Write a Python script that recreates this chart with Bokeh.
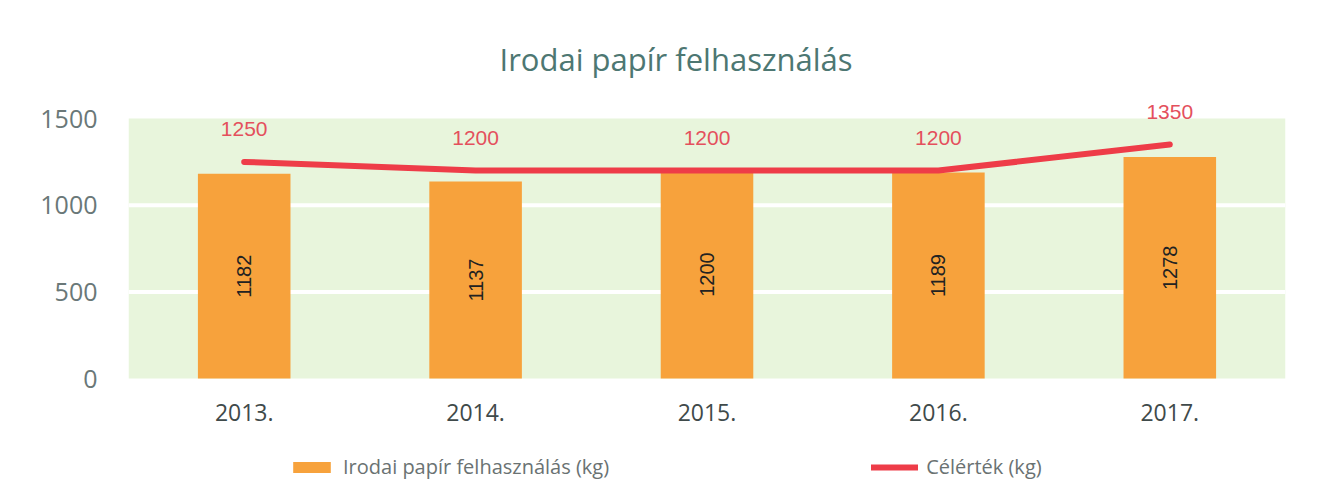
import math
from bokeh.plotting import figure
from bokeh.models import (ColumnDataSource, LabelSet, Legend, LegendItem, Range1d,
                          FactorRange, BoxAnnotation, Span)
from bokeh.core.properties import value
from bokeh.embed import file_html
from bokeh.resources import INLINE

years = ["2013.", "2014.", "2015.", "2016.", "2017."]
usage = [1182, 1137, 1200, 1189, 1278]
target = [1250, 1200, 1200, 1200, 1350]
y_ticks = [0, 500, 1000, 1500]

src = ColumnDataSource(data=dict(
    x=years, usage=usage, target=target,
    half=[v / 2 for v in usage],
    base=[0] * len(years),
    usage_txt=[str(v) for v in usage],
    target_txt=[str(v) for v in target],
))

p = figure(x_range=FactorRange(*years, range_padding=0), y_range=Range1d(-617, 1662),
           width=1308, height=485,
           min_border_left=128, min_border_right=23, min_border_top=90, min_border_bottom=0,
           output_backend="svg", toolbar_location=None,
           title="Irodai papír felhasználás")

p.background_fill_color = "white"
p.border_fill_color = "white"
p.outline_line_color = None

p.title.align = "left"
p.title.offset = 371
p.title.text_font = "Open Sans"
p.title.text_font_style = "normal"
p.title.text_font_size = "31px"
p.title.text_color = "#4d7772"
p.title.standoff = 22

band = BoxAnnotation(bottom=y_ticks[0], top=y_ticks[-1], fill_color="#e8f5dc", fill_alpha=1,
                     line_color=None, level="underlay")
p.add_layout(band)
for t in y_ticks[1:-1]:
    p.add_layout(Span(location=t, dimension="width", line_color="white", line_width=4,
                      level="underlay"))

bars = p.vbar(x="x", top="usage", width=0.4, source=src, fill_color="#f7a23c", line_color=None)
line = p.line(x="x", y="target", source=src, line_color="#ee3c48", line_width=6, line_cap="round")

bar_labels = LabelSet(x="x", y="half", text="usage_txt", source=src, angle=math.pi / 2,
                      text_align="center", text_baseline="middle",
                      text_font=value("Liberation Sans"), text_font_size="20px",
                      text_color="#222222")
p.add_layout(bar_labels)

line_labels = LabelSet(x="x", y="target", text="target_txt", source=src, y_offset=26,
                       text_align="center", text_baseline="bottom",
                       text_font=value("Liberation Sans"), text_font_size="21px",
                       text_color="#e4505c")
p.add_layout(line_labels)

year_labels = LabelSet(x="x", y="base", text="x", source=src, y_offset=-34,
                       text_align="center", text_baseline="middle",
                       text_font=value("Open Sans"), text_font_size="23px",
                       text_color="#3f4a4a")
p.add_layout(year_labels)

p.yaxis.ticker = y_ticks
p.yaxis.axis_line_color = None
p.yaxis.major_tick_line_color = None
p.yaxis.minor_tick_line_color = None
p.yaxis.major_label_text_font = "Open Sans"
p.yaxis.major_label_text_font_size = "25px"
p.yaxis.major_label_text_color = "#6a7878"
p.yaxis.major_label_standoff = 25

p.xaxis.visible = False
p.xgrid.grid_line_color = None
p.ygrid.grid_line_color = None

legend = Legend(items=[
    LegendItem(label="Irodai papír felhasználás (kg)", renderers=[bars]),
    LegendItem(label="Célérték (kg)", renderers=[line]),
], orientation="horizontal", location=(160, 5), spacing=262,
    label_text_font="Open Sans", label_text_font_size="20px", label_text_color="#6a7272",
    glyph_width=47, glyph_height=14, label_standoff=8, border_line_color=None,
    background_fill_alpha=0, margin=0, padding=5)
p.add_layout(legend)

open("out.html", "w").write(file_html(p, INLINE))
